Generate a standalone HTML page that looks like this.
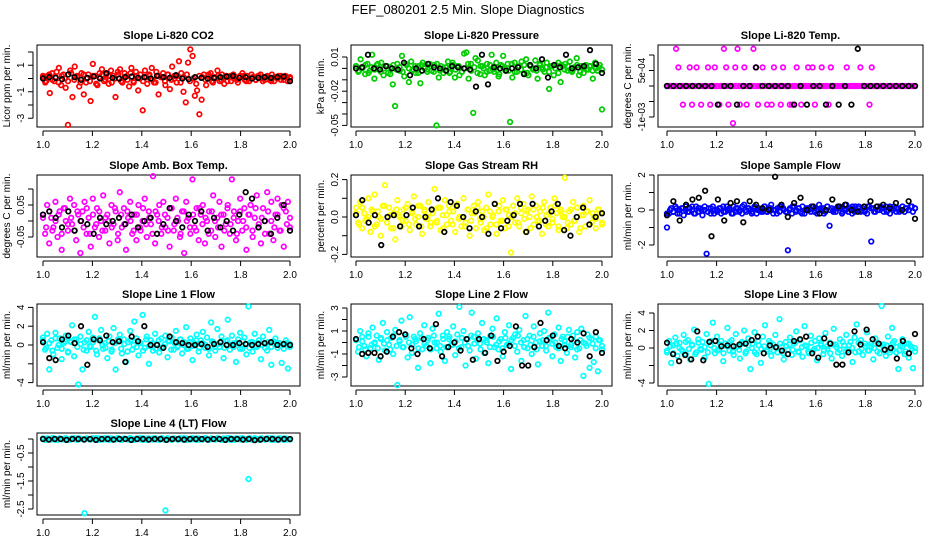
<!DOCTYPE html>
<html><head><meta charset="utf-8"><style>
body{margin:0;background:#fff;}
svg{display:block;font-family:"Liberation Sans",sans-serif;}
</style></head><body>
<svg id="chart" width="936" height="540" viewBox="0 0 936 540">
<rect width="936" height="540" fill="#fff"/>
<text x="468" y="14" text-anchor="middle" font-size="13">FEF_080201  2.5 Min. Slope Diagnostics</text>
</svg>
<script>
const xTicks=[1.0,1.2,1.4,1.6,1.8,2.0];
const xTickLabels=["1.0","1.2","1.4","1.6","1.8","2.0"];
const titles=["Slope Li-820 CO2","Slope Li-820 Pressure","Slope Li-820 Temp.","Slope Amb. Box Temp.","Slope Gas Stream RH","Slope Sample Flow","Slope Line 1 Flow","Slope Line 2 Flow","Slope Line 3 Flow","Slope Line 4 (LT) Flow"];
const yTitles=["Licor ppm per min.","kPa per min.","degrees C per min.","degrees C per min.","percent per min.","ml/min per min.","ml/min per min.","ml/min per min.","ml/min per min.","ml/min per min."];
const colors=["#ff0000","#00cc00","#ff00ff","#ff00ff","#ffff00","#0000ff","#00ffff","#00ffff","#00ffff","#00ffff"];
const yTickVals=[[2,1,0,-1,-2,-3],[0.01,0,-0.01,-0.02,-0.03,-0.04,-0.05],[1e-3,5e-4,0,-5e-4,-1e-3],[0.1,0.05,0,-0.05],[0.2,0.1,0,-0.1,-0.2],[2,1,0,-1,-2],[4,2,0,-2,-4],[3,2,1,0,-1,-2,-3],[4,2,0,-2,-4],[0,-0.5,-1,-1.5,-2,-2.5]];
const yTickLabels=[["","1","","-1","","-3"],["0.01","","","-0.02","","","-0.05"],["","5e-04","","","-1e-03"],["","0.05","","-0.05"],["0.2","","0.0","","-0.2"],["2","","0","","-2"],["4","2","0","","-4"],["3","","1","","-1","","-3"],["4","2","0","","-4"],["","-0.5","","-1.5","","-2.5"]];

const s1=[0.1,-0.3,0.2,-1.1,0.4,-0.2,0.5,0.8,-0.5,0.3,-0.7,-3.5,0.6,-1.4,0.9,0.2,-0.6,0.4,-1.2,-0.3,0.3,-1.7,1.1,0.2,-0.5,0.4,0.7,-0.2,0.3,-0.4,0.6,0.2,-1.4,0.5,0.7,-0.3,0.4,0.2,-0.6,0.8,-0.2,0.5,-0.9,0.3,-2.4,0.6,-0.4,0.2,0.8,-0.3,0.5,-1.2,0.1,0.4,-0.5,0.3,-0.8,0.9,0.2,-0.3,1.3,0.4,-1.0,-1.8,1.2,2.2,1.7,-1.3,-0.9,-2.7,-1.6,0.3,-0.5,0.2,0.4,-0.3,0.1,0.6,-0.2,0.3,-0.4,0.2,0.1,-0.2,0.3,0.1,-0.3,0.2,0.4,-0.1,0.2,-0.2,0.3,0.1,-0.1,0.2,0.3,-0.2,0.1,0.2,-0.1,0.3,-0.2,0.1,0.2,-0.1,0.1,0.2,-0.2,0.1];
const b1=[0.2,-0.2,0.3,-0.1,0.1,-0.3,0.2,0,-0.2,0.4,-0.1,0.1,-0.3,0.3,0,-0.2,0.2,-0.4,0.1,0.3,-0.1,0.2,-0.3,0,0.3,-0.2,0.1,-0.1,0.4,-0.3,0.2,0,-0.2,0.1,0.3,-0.1,-0.3,0.2,0.1,-0.2,0.3,-0.1,0,0.2,-0.3,0.1,0.3,-0.2,0,-0.4,0.2,0.1,-0.1,0.3,-0.2,0,0.2,-0.1,0.1,-0.2,0.2,0,-0.1,0.1,0.2,-0.2,0,0.1,-0.1,0.2,0,-0.1,0.1,-0.2,0.1,0,0.2,-0.1,0.1,0];
const k1=[0,0.1,0.05,-0.05,0.3,0.1,-0.1,0.05,0.15,0,0.4,0.05,0,0.1,0.15,0.05,0.1,0,0.2,0.1,0.05,0.25,0,-0.05,0.1,0.05,0,0.05,0.1,0.15,0.2,0.05,0.1,0,0.05,0.1,0.05,0.1,0.15,-0.2];
const s2=[.002,-.003,.008,.001,-.005,.004,-.002,.012,-.009,.003,-.001,.005,-.006,.002,-.004,.001,-.014,-.033,.004,-.002,.011,-.007,.003,-.012,.006,-.001,-.004,.002,-.013,.005,.001,-.003,.004,-.002,.003,-.05,-.008,.002,-.004,.001,.006,-.003,.005,-.008,.002,-.006,-.003,.013,.014,-.009,.004,-.039,.009,.007,-.005,.002,-.006,.004,-.002,.012,-.003,.005,-.007,.003,.011,-.002,.004,-.047,-.008,.005,-.003,.002,.006,-.004,.008,-.006,.002,-.001,.007,-.009,.004,.001,-.003,.005,-.018,.002,-.006,.003,.005,-.012,.002,.004,-.002,.006,-.003,.001,.009,-.006,.002,-.004,.003,-.001,.002,-.009,.005,-.002,.003,-.036];
const b2=[.002,-.002,0,.003,-.004,.001,-.001,.004,-.003,0,.002,-.005,.003,-.001,.001,-.003,.004,0,-.002,.002,-.004,.003,0,-.001,.002,-.003,.004,-.002,0,.001,-.004,.003,-.001,.002,-.003,0,.004,-.002,.001,-.004,.002,0,-.003,.003,-.001,.001,-.005,.002,0,-.002,.004,-.003,.001,-.001,.003,-.004,.002,0,-.002,.003,-.001,.001,-.003,.002,0,-.004,.003,-.001,.002,-.002,0,.003,-.003,.001,-.001,.002,-.002,0,.001,-.001];
const k2=[0,.001,.012,0,-.001,.002,0,-.001,.005,-.006,0,-.002,.004,.001,0,-.002,.002,.001,0,-.001,-.016,.012,-.014,.001,0,-.002,0,.001,-.005,.003,0,.008,-.008,.003,.001,.012,0,.001,.002,.016,.004,-.004];
const s3=[0,0,0,0,1.2e-3,6e-4,0,-6e-4,0,0,6e-4,-6e-4,0,6e-4,0,-6e-4,0,0,6e-4,-6e-4,0,6e-4,0,-6e-4,0,1.2e-3,6e-4,-6e-4,0,-1.2e-3,6e-4,1.2e-3,-6e-4,0,6e-4,-6e-4,0,0,1.2e-3,6e-4,-6e-4,0,6e-4,0,-6e-4,0,-6e-4,6e-4,0,0,-6e-4,6e-4,0,0,-6e-4,-6e-4,0,6e-4,0,-6e-4,0,0,6e-4,0,6e-4,-6e-4,0,0,6e-4,0,0,-6e-4,6e-4,0,0,0,0,0,0,6e-4,0,0,0,0,0,6e-4,0,0,0,-6e-4,6e-4,0,0,0,0,0,0,0,0,0,0,0,0,0,0,0,0,0,0,0];
const b3=[0,0,0,0,0,0,0,0,0,0,0,0,0,0,0,0,0,0,0,0,0,0,0,0,0,0,0,0,0,0,0,0,0,0,0,0,0,0,0,0,0,0,0,0,0,0,0,0,0,0,0,0,0,0,0,0,0,0,0,0,0,0,0,0,0,0,0,0,0,0,0,0,0,0,0,0,0,0,0,0];
const k3=[0,0,0,0,0,0,0,0,-6e-4,0,0,-6e-4,0,0,6e-4,0,0,0,0,0,-6e-4,0,-6e-4,0,0,-6e-4,0,-6e-4,0,-6e-4,1.2e-3,0,0,0,0,0,0,0,0,0];
const s4=[0.02,-0.04,0.05,-0.07,0.01,-0.02,0.06,-0.05,0.03,-0.09,0.04,0.0,-0.03,0.07,-0.01,0.05,-0.06,0.02,-0.1,0.03,0.06,-0.04,0.01,-0.08,0.07,-0.02,0.04,-0.05,0.0,0.08,-0.03,0.02,-0.07,0.05,-0.01,0.03,-0.06,0.09,-0.02,0.04,-0.09,0.01,0.06,-0.04,0.02,-0.06,0.05,-0.03,0.0,0.07,-0.05,0.03,-0.01,0.14,-0.07,0.02,0.05,-0.04,0.06,-0.02,0.01,-0.08,0.04,-0.03,0.07,0.0,-0.05,0.03,-0.1,0.06,0.01,-0.04,0.13,-0.02,0.04,-0.06,0.02,0.05,-0.07,0.0,0.03,-0.03,0.08,-0.05,0.01,0.06,-0.08,0.02,-0.01,0.05,-0.04,0.13,0.03,-0.06,0.0,0.07,-0.03,0.04,-0.09,0.02,0.05,-0.05,0.01,0.08,-0.02,-0.07,0.04,0.0,0.09,-0.04,0.06,-0.06,0.02,0.07,-0.03,0.05,-0.08,0.03,0.06,-0.02];
const b4=[0.01,-0.02,0.03,-0.03,0.0,0.02,-0.04,0.04,-0.01,0.01,-0.03,0.03,0.0,-0.02,0.04,-0.04,0.02,-0.01,0.03,-0.03,0.01,0.0,-0.02,0.04,-0.04,0.02,-0.01,0.03,0.0,-0.03,0.02,-0.02,0.04,-0.01,0.01,-0.04,0.03,0.0,-0.02,0.02,-0.03,0.04,-0.01,0.01,-0.04,0.03,0.0,-0.02,0.02,-0.03,0.04,-0.01,0.01,-0.04,0.03,0.0,-0.02,0.02,-0.03,0.04,-0.01,0.01,-0.04,0.03,0.0,-0.02,0.02,-0.03,0.04,-0.01,0.01,-0.04,0.03,0.0,-0.02,0.02,-0.03,0.04,-0.01,0.01];
const k4=[0.02,0.03,0.01,-0.02,0.03,-0.03,0.0,-0.01,-0.04,0.01,-0.01,0.0,0.01,-0.01,0.02,-0.02,0.0,0.01,-0.04,-0.01,0.04,0.0,-0.02,0.02,0.0,0.03,-0.03,0.01,-0.02,0.0,-0.03,0.02,0.09,0.07,-0.02,0.0,-0.04,0.01,0.05,-0.03];
const s5=[0.05,-0.03,0.08,-0.06,0.02,-0.01,0.1,-0.08,0.03,0.12,-0.04,0.0,-0.1,0.06,0.17,-0.03,0.05,-0.06,0.02,-0.12,0.09,0.01,-0.05,0.04,-0.02,0.07,-0.07,0.03,0.11,-0.04,0.0,0.06,-0.09,0.04,-0.01,0.08,-0.05,0.02,0.15,-0.03,0.05,-0.07,0.01,0.09,-0.04,0.06,-0.02,0.03,-0.08,0.07,0.0,-0.05,0.1,-0.03,0.04,-0.1,0.02,0.06,-0.06,0.08,-0.01,0.03,-0.07,0.05,0.12,-0.04,0.0,0.07,-0.09,0.03,-0.02,0.09,-0.06,0.04,0.01,-0.19,0.06,-0.03,0.1,-0.05,0.02,0.07,-0.08,0.04,0.0,0.11,-0.04,0.06,-0.02,0.03,-0.09,0.08,0.01,-0.05,0.05,-0.03,0.1,0.02,-0.07,0.04,0.0,0.21,-0.06,0.03,-0.04,0.08,-0.02,0.05,-0.08,0.01,0.06,-0.05,0.03,0.09,-0.03,0.0,-0.06,0.04,0.02,-0.04];
const b5=[0.02,-0.04,0.05,-0.02,0.0,0.04,-0.05,0.03,-0.01,0.06,-0.03,0.01,-0.06,0.04,0.0,-0.02,0.05,-0.04,0.02,-0.01,0.06,-0.05,0.03,0.0,-0.03,0.04,-0.02,0.05,-0.06,0.01,0.03,-0.04,0.06,-0.01,0.0,-0.05,0.04,-0.02,0.02,0.05,-0.03,0.0,-0.06,0.03,0.01,-0.04,0.06,-0.02,0.04,-0.05,0.0,0.02,-0.03,0.05,-0.01,0.03,-0.06,0.04,0.0,-0.02,0.05,-0.04,0.02,-0.01,0.06,-0.05,0.03,0.0,-0.03,0.04,-0.02,0.05,-0.06,0.01,0.03,-0.04,0.02,-0.01,0.04,-0.03];
const k5=[0.01,0.09,-0.03,0.01,-0.15,0.0,0.01,-0.05,0.01,0.05,-0.05,0.0,0.04,0.1,-0.08,0.08,0.06,0.0,-0.06,0.03,0.0,-0.09,0.07,-0.06,-0.02,0.01,0.07,-0.08,0.07,-0.05,-0.02,0.03,0.07,-0.07,-0.1,0.0,0.05,-0.04,0.0,0.02];
const s6=[-1.0,-0.2,0.1,-0.1,0.2,-0.2,0.0,0.1,-0.3,0.2,-0.1,0.1,0.0,-0.2,0.2,-0.1,0.1,-0.3,0.0,-2.5,0.1,-0.2,0.2,0.0,-0.1,0.1,-0.2,0.2,-0.1,0.0,0.1,-0.2,0.2,-0.1,0.1,0.0,-0.2,0.3,-0.1,0.1,0.0,-0.1,0.2,-0.2,0.1,0.0,-0.1,0.2,-0.1,0.1,0.3,-0.2,0.0,0.1,-0.1,0.2,0.0,-0.1,-2.3,0.1,-0.2,0.2,0.0,0.1,-0.1,0.2,-0.2,0.1,0.0,-0.1,0.2,0.1,-0.2,0.3,0.0,0.1,-0.1,0.2,-0.9,0.1,0.0,-0.1,0.2,0.1,-0.2,0.0,0.3,-0.1,0.1,0.2,-0.1,0.0,0.2,-0.1,0.1,0.0,-0.2,0.2,-1.8,0.1,-0.1,0.2,0.0,0.1,-0.1,0.2,0.0,-0.2,0.1,0.2,-0.1,0.1,0.0,0.2,-0.1,0.1,0.0,0.2,-0.1,0.1];
const b6=[-0.2,0.0,-0.1,0.1,-0.2,0.1,0.0,-0.1,0.2,-0.2,0.1,0.0,0.2,-0.1,0.1,-0.2,0.0,0.1,-0.1,0.2,0.0,-0.2,0.1,-0.1,0.2,0.0,0.1,-0.2,0.1,0.0,-0.1,0.2,-0.1,0.1,0.0,-0.2,0.2,0.1,-0.1,0.0,0.2,-0.1,0.1,-0.2,0.0,0.1,0.2,-0.1,0.0,0.1,-0.2,0.2,0.0,-0.1,0.1,0.2,-0.1,0.0,0.1,-0.2,0.2,0.1,0.0,-0.1,0.2,0.1,-0.1,0.0,0.2,0.1,-0.1,0.2,0.0,0.1,-0.1,0.2,0.1,0.0,0.2,0.1];
const k6=[-0.3,0.5,-0.6,0.3,0.6,0.7,1.1,-1.5,0.6,-0.6,0.4,0.5,-0.7,0.5,0.3,0.1,0.0,1.9,0.3,-0.4,0.4,0.7,0.0,0.2,-0.2,0.0,0.6,0.2,0.3,0.0,-0.1,0.2,0.5,0.2,0.3,0.1,0.4,0.0,0.5,-0.5];
const s7=[0.8,-0.5,1.2,-2.6,0.5,-1.0,1.3,-0.3,0.7,-1.5,0.2,1.0,-0.8,0.4,2.1,-1.2,0.6,-4.2,0.9,-2.6,0.3,-0.6,1.4,-0.2,0.8,3.0,-1.0,0.5,1.6,-0.4,0.2,-1.4,0.9,-0.7,1.8,-2.6,0.4,1.1,-0.9,0.6,-1.8,0.3,1.5,-0.5,2.5,0.7,-1.1,0.2,3.2,-0.3,0.9,-2.0,0.5,-0.6,1.2,0.1,-0.8,0.7,-0.2,1.0,-1.3,0.4,0.8,-0.5,1.5,-0.1,0.6,-0.9,0.3,1.9,-0.4,0.7,-1.6,0.2,1.1,-0.7,0.5,1.4,-0.3,0.8,-1.1,2.4,0.3,-0.6,1.7,-0.2,0.9,-1.4,0.4,2.7,-0.5,1.0,0.2,-1.8,0.6,1.3,-0.4,0.8,-1.0,4.1,0.3,-0.7,1.2,-0.2,0.5,-1.5,0.9,0.1,-0.6,1.6,-2.1,0.4,0.7,-0.3,0.2,-1.9,-0.4,0.5,-2.5,0.1];
const b7=[0.5,-0.3,0.2,-0.6,0.7,0.0,-0.4,0.4,-0.7,0.3,0.6,-0.2,0.1,-0.5,0.5,-0.1,0.3,-0.6,0.7,0.0,-0.3,0.4,-0.5,0.2,0.6,-0.4,0.1,-0.7,0.5,0.0,-0.2,0.3,-0.6,0.6,-0.1,0.2,-0.4,0.5,-0.3,0.1,0.4,-0.5,0.2,-0.2,0.6,0.0,-0.4,0.3,-0.1,0.5,-0.3,0.2,0.0,-0.4,0.4,-0.2,0.1,0.3,-0.3,0.5,0.0,-0.2,0.2,-0.4,0.4,0.1,-0.3,0.3,-0.1,0.2,0.0,-0.3,0.3,-0.2,0.1,0.2,-0.1,0.0,0.2,-0.2];
const k7=[0.3,-1.4,-1.6,0.6,1.0,0.2,2.0,-2.1,0.6,0.5,1.0,0.3,0.4,-1.8,0.9,0.4,2.0,0.0,0.0,-0.3,0.9,0.3,0.2,0.0,0.0,0.1,-0.2,0.1,0.3,0.0,0.0,0.2,0.1,0.0,0.1,0.2,0.3,0.0,0.1,0.0];
const s8=[0.2,-0.8,1.0,0.5,-0.3,-1.2,0.8,-0.5,1.3,-0.1,0.6,-1.5,0.3,1.7,-0.7,0.9,-0.2,0.4,-1.0,1.1,-3.7,0.2,1.9,-0.4,0.7,-1.3,2.2,-0.9,0.5,0.1,-2.2,0.8,-0.6,1.5,-0.3,0.4,-1.8,1.2,0.0,-0.5,2.5,-0.8,0.6,-1.6,0.9,0.3,-0.2,1.4,-1.1,0.7,3.1,-0.4,1.0,-2.0,0.3,-0.7,2.6,0.5,-1.4,0.8,-0.1,1.7,-0.9,0.2,-1.8,0.6,1.2,-0.4,2.1,-0.6,0.3,-1.2,0.9,-0.2,1.5,-2.3,0.4,0.7,-0.8,1.1,-1.6,0.2,2.3,-0.5,0.6,-1.0,1.4,0.0,-1.9,0.8,-0.3,1.0,-0.7,2.6,0.4,-1.2,0.7,-0.4,1.3,-1.6,0.5,0.1,-0.9,1.1,-0.2,0.6,-1.3,0.9,-0.5,1.2,-2.9,-0.1,0.7,-2.2,0.3,-1.7,0.5,-2.5,0.2,-0.6];
const b8=[0.3,-0.4,0.1,-0.6,0.5,-0.2,0.0,-0.5,0.4,-0.1,0.2,-0.6,0.6,-0.3,0.1,-0.4,0.5,0.0,-0.2,0.3,-0.5,0.4,-0.1,0.2,-0.6,0.6,0.0,-0.3,0.3,-0.4,0.5,-0.2,0.1,-0.5,0.4,0.0,-0.3,0.6,-0.1,0.2,-0.6,0.3,0.0,-0.4,0.5,-0.2,0.1,-0.5,0.4,-0.1,0.2,-0.3,0.6,0.0,-0.4,0.3,-0.2,0.5,-0.6,0.1,0.2,-0.3,0.4,-0.1,0.0,-0.5,0.3,-0.2,0.5,-0.4,0.1,-0.6,0.2,0.0,-0.3,0.4,-0.1,-0.5,0.2,-0.3];
const k8=[0.3,-1.0,-0.9,-0.9,-1.2,-0.8,0.5,0.9,0.7,-0.5,-1.0,0.3,-0.5,1.6,-1.2,-0.4,0.0,-0.7,0.3,-1.5,0.3,-0.9,0.6,-1.6,-0.8,-0.3,1.4,-2.0,-2.0,-0.4,1.7,0.2,0.6,-0.3,-0.5,0.3,0.0,0.8,-1.2,0.9,-0.9];
const s9=[-0.5,0.8,-1.7,0.3,1.2,-0.9,0.6,-0.2,1.5,-0.7,0.9,-1.3,0.4,2.1,-0.5,1.0,-0.1,0.7,-1.1,1.6,-4.1,0.3,2.9,-0.6,1.3,-0.2,0.8,-1.5,0.5,2.3,-0.3,0.9,-0.8,1.6,0.2,-1.2,0.7,2.0,-0.4,1.1,-2.4,0.5,1.8,-0.7,0.3,-1.7,1.3,2.6,-0.2,0.8,-0.9,0.4,1.5,-0.5,3.3,0.1,-1.3,0.7,-0.2,1.2,-0.8,0.5,1.9,-0.4,0.9,-1.0,2.5,0.2,-0.6,1.4,-0.3,0.8,-1.4,1.1,0.3,-0.7,1.7,-0.1,0.6,-1.2,2.2,0.4,-0.5,1.0,-0.9,0.3,1.5,-0.2,0.7,-1.6,1.2,2.7,-0.4,0.9,-0.8,0.5,1.8,-0.3,0.2,-1.3,1.1,0.6,-0.6,4.8,0.4,-0.9,1.3,-0.2,2.3,0.8,-0.5,-2.4,0.3,1.0,-0.7,0.5,-1.1,0.2,-2.3,-0.4];
const b9=[-0.3,0.2,-0.6,0.5,0.0,-0.4,0.7,-0.1,0.3,-0.7,0.6,-0.2,0.1,-0.5,0.8,0.0,-0.3,0.4,-0.6,0.2,0.7,-0.4,0.1,-0.2,0.5,-0.6,0.3,0.0,-0.5,0.8,-0.1,0.2,-0.4,0.6,-0.3,0.0,0.5,-0.6,0.2,0.4,-0.2,0.7,-0.5,0.1,0.3,-0.4,0.6,-0.1,0.0,0.5,-0.3,0.2,-0.6,0.4,0.1,-0.2,0.7,-0.4,0.3,0.0,-0.5,0.6,-0.1,0.2,-0.3,0.5,0.0,-0.4,0.4,-0.2,0.3,-0.5,0.6,0.1,-0.3,0.2,-0.4,0.5,-0.1,0.0];
const k9=[0.6,-0.7,-1.5,-0.8,-1.3,1.9,-1.4,0.7,0.8,0.2,0.3,0.2,0.4,0.5,0.9,1.3,-0.6,0.3,0.1,-0.3,-0.7,0.8,1.0,1.3,-0.6,-1.1,1.1,0.5,-1.9,-1.9,-0.5,1.9,0.4,2.1,1.0,0.5,-0.2,0.0,-1.2,0.8,-0.6,1.6];
const s10=[0,-0.03,0.02,0,-0.02,0.03,0,-0.03,0.02,0,-0.02,0.03,0,-0.03,0.02,0,-0.02,0.03,0,0,-2.65,0.02,0,-0.02,0.03,0,-0.03,0.02,0,-0.02,0.03,0,-0.03,0.02,0,-0.02,0.03,0,-0.03,0.02,0,-0.02,0.03,0,-0.03,0.02,0,-0.02,0.03,0,-0.03,0.02,0,-0.02,0.03,0,-0.03,0.02,0,-2.55,0.03,0,-0.03,0.02,0,-0.02,0.03,0,-0.03,0.02,0,-0.02,0.03,0,-0.03,0.02,0,-0.02,0.03,0,-0.03,0.02,0,-0.02,0.03,0,-0.03,0.02,0,-0.02,0.03,0,-0.03,0.02,0,-0.02,0.03,0,-0.03,-1.43,0,-0.02,0.03,0,-0.03,0.02,0,-0.02,0.03,0,-0.03,0.02,0,-0.02,0.03,0,-0.03,0.02,0,-0.02];
const b10=[0.02,-0.02,0,0.03,-0.03,0.01,-0.01,0.02,-0.02,0,0.03,-0.03,0.01,-0.01,0.02,-0.02,0,0.03,-0.03,0.01,-0.01,0.02,-0.02,0,0.03,-0.03,0.01,-0.01,0.02,-0.02,0,0.03,-0.03,0.01,-0.01,0.02,-0.02,0,0.03,-0.03,0.01,-0.01,0.02,-0.02,0,0.03,-0.03,0.01,-0.01,0.02,-0.02,0,0.03,-0.03,0.01,-0.01,0.02,-0.02,0,0.03,-0.03,0.01,-0.01,0.02,-0.02,0,0.03,-0.03,0.01,-0.01,0.02,-0.02,0,0.03,-0.03,0.01,-0.01,0.02,-0.02,0];
const k10=[0,-0.02,0,0,-0.03,0,0,-0.02,0,-0.03,0,0,-0.02,0,0,-0.03,0,0,-0.02,0,0,-0.03,0,0,-0.02,0,0,0,-0.02,0,0,-0.03,0,0,-0.02,0,-0.04,-0.02,0,0,-0.02,0,0];
const colorSeries=[s1,s2,s3,s4,s5,s6,s7,s8,s9,s10];
const bandSeries=[b1,b2,b3,b4,b5,b6,b7,b8,b9,b10];
const blackSeries=[k1,k2,k3,k4,k5,k6,k7,k8,k9,k10];

// layout (pixels)
const colBox=[[37,300],[351,612],[658,923]];
const colX=[[43,290],[356,602],[667,915]];
const rowTop=[45,175,304,433];
const boxH=82;
const yZero=[33.5,23.4,41,46,42,35,41,38.5,44,6];
const yPx=[13.25,1140,31000,320,187,17.5,9.4,11.5,8.75,28];

const NS="http://www.w3.org/2000/svg";
const svg=document.getElementById('chart');
function mk(tag,attrs,parent){const e=document.createElementNS(NS,tag);for(const k in attrs)e.setAttribute(k,attrs[k]);(parent||svg).appendChild(e);return e;}

for(let p=0;p<10;p++){
  const c=p%3,r=Math.floor(p/3);
  const L=colBox[c][0],R=colBox[c][1],T=rowTop[r],B=T+boxH;
  const xs=v=>colX[c][0]+(v-1)*(colX[c][1]-colX[c][0]);
  const ys=v=>T+yZero[p]-v*yPx[p];
  const g=mk('g',{});
  
  
  const t=mk('text',{x:(L+R)/2,y:T-6,'text-anchor':'middle','font-size':11,'font-weight':'bold'},g);
  t.textContent=titles[p];
  
  
  const box=mk('rect',{x:L,y:T,width:R-L,height:boxH,fill:'none',stroke:'#000','stroke-width':1},g);
  
  
  const xa=mk('g',{},g);
  
  
  mk('line',{x1:xs(xTicks[0]),x2:xs(xTicks[xTicks.length-1]),y1:B+4,y2:B+4,stroke:'#000'},xa);
  xTicks.forEach((v,i)=>{
    mk('line',{x1:xs(v),x2:xs(v),y1:B+4,y2:B+9,stroke:'#000'},xa);
    const tl=mk('text',{x:xs(v),y:B+21,'text-anchor':'middle','font-size':10},xa);
    tl.textContent=xTickLabels[i];
    
    
  });
  const ya=mk('g',{},g);
  
  
  const tv=yTickVals[p];
  mk('line',{x1:L-4,x2:L-4,y1:ys(tv[0]),y2:ys(tv[tv.length-1]),stroke:'#000'},ya);
  tv.forEach((v,i)=>{
    mk('line',{x1:L-9,x2:L-4,y1:ys(v),y2:ys(v),stroke:'#000'},ya);
    if(yTickLabels[p][i]){
      const yl=mk('text',{x:L-13,y:ys(v),'text-anchor':'middle','font-size':10,transform:`rotate(-90 ${L-13} ${ys(v)})`},ya);
      yl.textContent=yTickLabels[p][i];
      
      
    }
  });
  const yt=mk('text',{x:L-27,y:T+boxH/2,'text-anchor':'middle','font-size':10,transform:`rotate(-90 ${L-27} ${T+boxH/2})`},g);
  yt.textContent=yTitles[p];
  
  
  [[colorSeries[p],colors[p],'colored-series'],[bandSeries[p],colors[p],'colored-band-series'],[blackSeries[p],'#000','black-series']].forEach(([arr,col,nm])=>{
    const sg=mk('g',{fill:'none',stroke:col,'stroke-width':1.7},g);
    
    
    const n=arr.length;
    arr.forEach((v,i)=>{
      const pt=mk('circle',{cx:xs(1+i/(n-1)),cy:ys(v),r:2.3},sg);
      
      
    });
  });
}
</script>
</body></html>
